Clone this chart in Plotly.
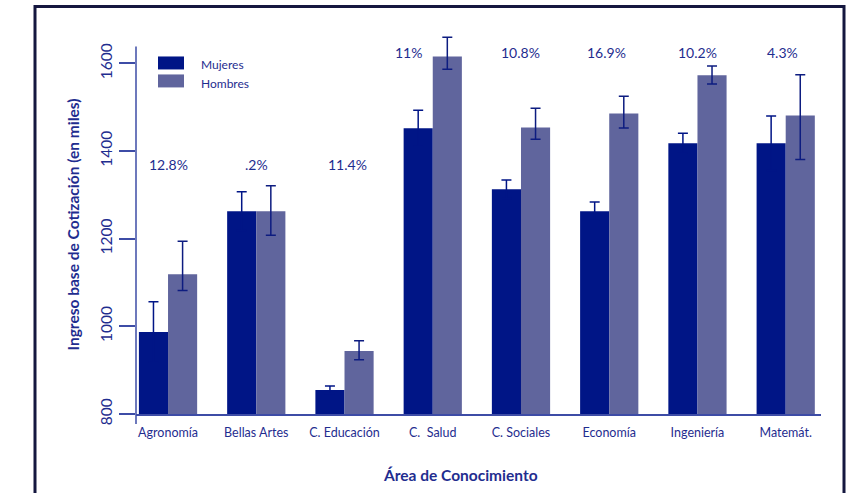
import plotly.graph_objects as go

categories = ["Agronomía", "Bellas Artes", "C. Educación", "C.  Salud",
              "C. Sociales", "Economía", "Ingeniería", "Matemát."]
mujeres = [987, 1263, 855, 1452, 1313, 1263, 1418, 1418]
mujeres_err = [69, 44, 9, 41, 21, 21, 23, 62]
hombres = [1119, 1263, 944, 1616, 1454, 1486, 1573, 1481]
hombres_err_up = [75, 58, 23, 44, 44, 39, 21, 93]
hombres_err_down = [37, 55, 20, 29, 27, 33, 20, 100]
brecha = ["12.8%", ".2%", "11.4%", "11%", "10.8%", "16.9%", "10.2%", "4.3%"]
brecha_y = [1370, 1370, 1370, 1625, 1625, 1625, 1625, 1625]
brecha_shift = [0, 0, 3, -24, 0, -3, 0, -3]

FONT = "Lato"
TXT = "#1f2d8f"
AX = "#3d4ca6"
C_M = "#001586"
C_H = "#60659d"
ERR = "#0d1c80"

Y0, Y1, YLINE_TOP = 800, 1665, 1639
BASE_PX = 414
H = 379.5
TOP = BASE_PX - H


def py(p):
    return (BASE_PX - p) / H


def px(p):
    return (p - 136) / 685


fig = go.Figure()
fig.add_trace(go.Bar(
    x=categories, y=mujeres, name="Mujeres", marker=dict(color=C_M, line=dict(width=0)),
    error_y=dict(type="data", array=mujeres_err, color=C_M, thickness=1.5, width=5),
    showlegend=False))
fig.add_trace(go.Bar(
    x=categories, y=hombres, name="Hombres", marker=dict(color=C_H, line=dict(width=0)),
    error_y=dict(type="data", symmetric=False, array=hombres_err_up,
                 arrayminus=hombres_err_down, color=ERR, thickness=1.5, width=5),
    showlegend=False))

for i, (t, yy, sh) in enumerate(zip(brecha, brecha_y, brecha_shift)):
    fig.add_annotation(x=categories[i], y=yy, text=t, showarrow=False, xshift=sh,
                       font=dict(family=FONT, size=14, color=TXT))

# legend drawn manually
fig.add_shape(type="rect", xref="paper", yref="paper", x0=px(158), x1=px(184),
              y0=py(69), y1=py(56), fillcolor=C_M, line=dict(width=0))
fig.add_shape(type="rect", xref="paper", yref="paper", x0=px(158), x1=px(184),
              y0=py(87), y1=py(74), fillcolor=C_H, line=dict(width=0))
fig.add_annotation(xref="paper", yref="paper", x=px(199), y=py(64),
                   text="Mujeres", showarrow=False, xanchor="left", yanchor="middle",
                   font=dict(family=FONT, size=12, color=TXT))
fig.add_annotation(xref="paper", yref="paper", x=px(199), y=py(83),
                   text="Hombres", showarrow=False, xanchor="left", yanchor="middle",
                   font=dict(family=FONT, size=12, color=TXT))

# x title
fig.add_annotation(xref="paper", yref="paper", x=px(460), y=py(475),
                   text="<b>Área de Conocimiento</b>", showarrow=False,
                   xanchor="center", yanchor="middle",
                   font=dict(family=FONT, size=15.5, color=TXT))

# y-axis line (from baseline stub below x-axis up to just above 1600)
fig.add_shape(type="line", xref="paper", yref="paper", x0=0, x1=0,
              y0=py(424), y1=py(46), line=dict(color=AX, width=1.5))
# outer frame
fig.add_shape(type="rect", xref="paper", yref="paper",
              x0=px(35), x1=px(844), y0=py(520), y1=py(6),
              line=dict(color="#15173f", width=3), fillcolor="rgba(0,0,0,0)")

fig.update_layout(
    width=862, height=493,
    margin=dict(l=136, r=41, t=TOP, b=493 - BASE_PX),
    paper_bgcolor="white", plot_bgcolor="white",
    barmode="group", bargap=0.34, bargroupgap=0,
    font=dict(family=FONT, color=TXT),
    showlegend=False,
)
fig.update_xaxes(
    type="category", range=[-0.363, 7.4], showline=True, linecolor=AX, linewidth=1.5,
    ticks="", showgrid=False, zeroline=False, ticklabelstandoff=6,
    tickfont=dict(family=FONT, size=12.5, color=TXT),
)
fig.update_yaxes(
    range=[Y0, Y1], showline=False,
    ticks="outside", ticklen=16, tickwidth=1.5, tickcolor=AX,
    tickvals=[800, 1000, 1200, 1400, 1600], tickangle=-90,
    showgrid=False, zeroline=False, ticklabelstandoff=1,
    tickfont=dict(family=FONT, size=15.5, color=TXT),
    title=dict(text="<b>Ingreso base de Cotización (en miles)</b>", standoff=13,
               font=dict(family=FONT, size=15.5, color=TXT)),
)

fig.write_html("out.html")
